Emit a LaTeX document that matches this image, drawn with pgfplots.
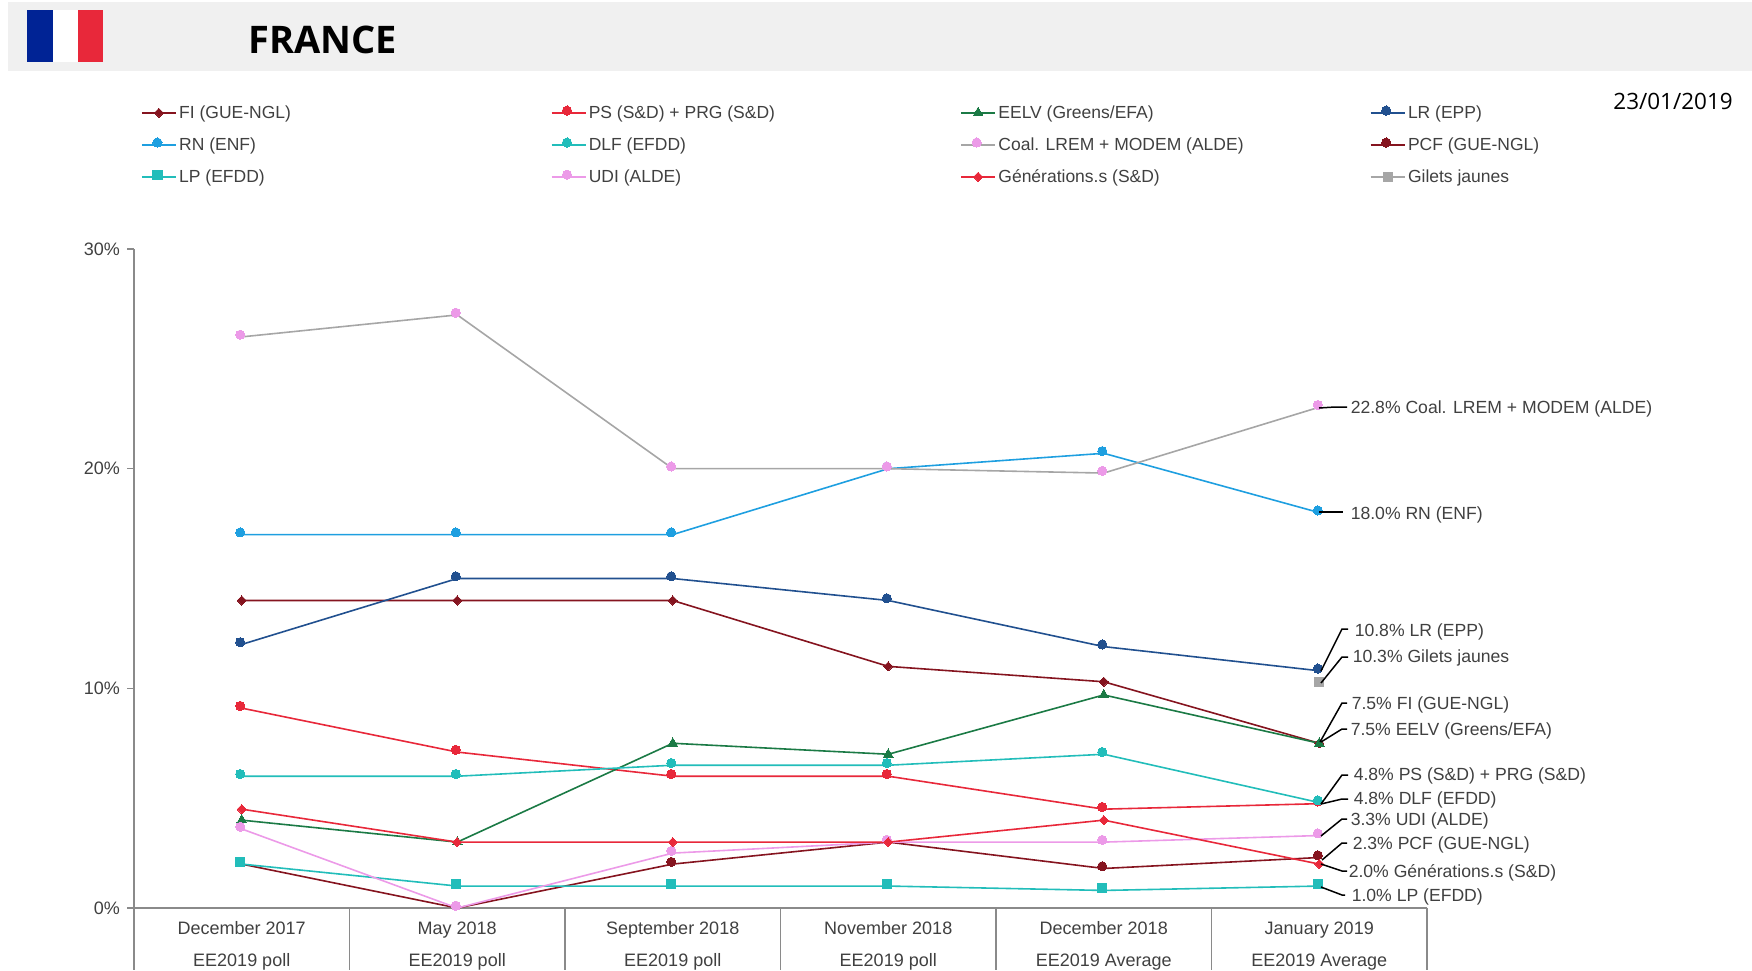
\documentclass[border=0pt]{standalone}
\usepackage{fontspec}
\setmainfont{Liberation Sans}
\newfontfamily\headfont{Open Sans}
\usepackage{pgfplots}
\pgfplotsset{compat=1.18}

\definecolor{fi}{HTML}{85141F}
\definecolor{ps}{HTML}{E8283A}
\definecolor{eelv}{HTML}{1B7A45}
\definecolor{lr}{HTML}{21508F}
\definecolor{rn}{HTML}{1E9FE0}
\definecolor{dlf}{HTML}{22BDBA}
\definecolor{lrem}{HTML}{A6A6A6}
\definecolor{pink}{HTML}{EC9AE8}
\definecolor{txt}{HTML}{404040}
\definecolor{axisgrey}{HTML}{8A8A8A}
\definecolor{flagblue}{HTML}{002395}

\pgfplotstableread{
x   fi   ps   eelv lr   rn   dlf  lrem pcf  lp   udi  gen
0.5 14   9.1  4.0  12.0 17.0 6.0  26.0 2.0  2.0  3.6  4.5
1.5 14   7.1  3.0  15.0 17.0 6.0  27.0 0.0  1.0  0.0  3.0
2.5 14   6.0  7.5  15.0 17.0 6.5  20.0 2.0  1.0  2.5  3.0
3.5 11   6.0  7.0  14.0 20.0 6.5  20.0 3.0  1.0  3.0  3.0
4.5 10.3 4.5  9.7  11.9 20.7 7.0  19.8 1.8  0.8  3.0  4.0
5.5 7.5  4.75 7.5  10.8 18.0 4.8  22.8 2.3  1.0  3.3  2.0
}\polls

\pgfplotsset{
  serie/.style args={#1/#2/#3}{color=#1, line width=1.6pt, mark=#3,
    mark options={solid, draw=#2, fill=#2, line width=0pt, mark size=4.6pt}},
  offset/.style={every mark/.append style={xshift=-1.5pt, yshift=2.2pt}},
  wide/.style={every mark/.append style={xscale=1.33}},
  fat/.style={every mark/.append style={scale=1.2}},
}
\newcommand{\ent}[1]{\makebox[374pt][l]{#1}}

\begin{document}
\begin{tikzpicture}
\path[use as bounding box] (0pt,0pt) rectangle (1752pt,-970pt);
\begin{scope}[x=1pt,y=-1pt]
  \fill[black!6] (8,2) rectangle (1752,70.5);
  \fill[white] (53,10) rectangle (78,62);
  \fill[flagblue] (27,10) rectangle (53,62);
  \fill[ps] (78,10) rectangle (103,62);
  \node[anchor=base west,inner sep=0pt,font=\headfont\bfseries\fontsize{38}{40}\selectfont] at (248,53) {FRANCE};
  \node[anchor=base east,inner sep=0pt,font=\headfont\fontsize{22.5}{26}\selectfont] at (1733,109) {23/01/2019};
\end{scope}

\begin{axis}[
    at={(134pt,-908pt)},
    anchor=origin,
    scale only axis,
    width=1293pt,
    height=659pt,
    xmin=0, xmax=6,
    ymin=0, ymax=30,
    clip=false,
    axis lines=left,
    x axis line style={-, draw=axisgrey, line width=1.5pt},
    y axis line style={-, draw=axisgrey, line width=1.5pt},
    tick align=outside,
    xtick={0.5,1.5,2.5,3.5,4.5,5.5},
    xticklabels={
      December 2017\\EE2019 poll,
      \vphantom{b}May 2018\\EE2019 poll,
      September 2018\\EE2019 poll,
      November 2018\\EE2019 poll,
      December 2018\\EE2019 Average,
      \vphantom{b}January 2019\\EE2019 Average},
    xticklabel style={align=center, text=txt, font=\fontsize{18}{32}\selectfont, yshift=-3.2pt},
    major x tick style={draw=none},
    ytick={0,10,20,30},
    yticklabel={\pgfmathprintnumber{\tick}\%},
    yticklabel style={text=txt, font=\fontsize{18}{22}\selectfont, xshift=-3.5pt},
    y tick style={draw=axisgrey, line width=1.5pt},
    major tick length=7pt,
    /pgf/number format/assume math mode=true,
    legend columns=4,
    legend cell align=left,
    legend style={
      at={(axis description cs:0.0055,1.2175)},
      anchor=north west,
      draw=none, fill=none,
      inner sep=0pt, outer sep=0pt,
      row sep=17.8pt,
      font=\fontsize{17.5}{23}\selectfont,
      text=txt,
      nodes={inner sep=0pt, outer sep=0pt},
    },
    legend image code/.code={
      \draw[mark repeat=2,mark phase=2,#1] plot coordinates {(0pt,0pt)(17pt,0pt)(34pt,0pt)};
    },
]
\addplot[serie={fi/fi/diamond*},wide] table[x=x,y=fi] {\polls};
\addlegendentry{\ent{\hspace{2.5pt}FI (GUE-NGL)}}
\addplot[serie={ps/ps/*},offset] table[x=x,y=ps] {\polls};
\addlegendentry{\ent{\hspace{2.5pt}PS (S\&D) + PRG (S\&D)}}
\addplot[serie={eelv/eelv/triangle*},fat] table[x=x,y=eelv] {\polls};
\addlegendentry{\ent{\hspace{2.5pt}EELV (Greens/EFA)}}
\addplot[serie={lr/lr/*},offset] table[x=x,y=lr] {\polls};
\addlegendentry{\ent{\hspace{2.5pt}LR (EPP)}}
\addplot[serie={rn/rn/*},offset] table[x=x,y=rn] {\polls};
\addlegendentry{\ent{\hspace{2.5pt}RN (ENF)}}
\addplot[serie={dlf/dlf/*},offset] table[x=x,y=dlf] {\polls};
\addlegendentry{\ent{\hspace{2.5pt}DLF (EFDD)}}
\addplot[serie={lrem/pink/*},offset] table[x=x,y=lrem] {\polls};
\addlegendentry{\ent{\hspace{2.5pt}Coal. LREM + MODEM (ALDE)}}
\addplot[serie={fi/fi/*},offset] table[x=x,y=pcf] {\polls};
\addlegendentry{\ent{\hspace{2.5pt}PCF (GUE-NGL)}}
\addplot[serie={dlf/dlf/square*},offset] table[x=x,y=lp] {\polls};
\addlegendentry{\ent{\hspace{2.5pt}LP (EFDD)}}
\addplot[serie={pink/pink/*},offset] table[x=x,y=udi] {\polls};
\addlegendentry{\ent{\hspace{2.5pt}UDI (ALDE)}}
\addplot[serie={ps/ps/diamond*},wide] table[x=x,y=gen] {\polls};
\addlegendentry{\ent{\hspace{2.5pt}Générations.s (S\&D)}}
\addplot[serie={lrem/lrem/square*}] coordinates {(5.5,10.3)};
\addlegendentry{\ent{\hspace{2.5pt}Gilets jaunes}}
\end{axis}

\begin{scope}[x=1pt,y=-1pt,line width=1.5pt,black]
  % category dividers below the axis
  \foreach \k in {0,...,6}
    \draw[axisgrey] ({134+\k*215.5},908) -- ({134+\k*215.5},970);
  \draw (1319,408) -- (1335,407) -- (1347,407);
  \draw (1319,512) -- (1343,512);
  \draw (1321,671) -- (1342,629) -- (1348,629);
  \draw (1321,683) -- (1342,657) -- (1348,657);
  \draw (1320,742) -- (1342,703) -- (1347,703);
  \draw (1321,742) -- (1342,729) -- (1347,729);
  \draw (1321,804) -- (1342,775) -- (1348,775);
  \draw (1321,804) -- (1342,799) -- (1348,799);
  \draw (1321,836) -- (1342,819) -- (1347,819);
  \draw (1322,860) -- (1342,843) -- (1347,843);
  \draw (1321,864) -- (1342,871) -- (1347,871);
  \draw (1321,887) -- (1342,895) -- (1345,895);
  \begin{scope}[every node/.style={anchor=west,inner sep=0pt,text=txt,font=\fontsize{17.6}{22}\selectfont}]
    \node at (1350,409) {22.8\% Coal. LREM + MODEM (ALDE)};
    \node at (1350,515) {18.0\% RN (ENF)};
    \node at (1354,632) {10.8\% LR (EPP)};
    \node at (1352,658) {10.3\% Gilets jaunes};
    \node at (1351,705) {7.5\% FI (GUE-NGL)};
    \node at (1350,731) {7.5\% EELV (Greens/EFA)};
    \node at (1353,776) {4.8\% PS (S\&D) + PRG (S\&D)};
    \node at (1353,800) {4.8\% DLF (EFDD)};
    \node at (1350,821) {3.3\% UDI (ALDE)};
    \node at (1352,845) {2.3\% PCF (GUE-NGL)};
    \node at (1348,873) {2.0\% Générations.s (S\&D)};
    \node at (1351,897) {1.0\% LP (EFDD)};
  \end{scope}
\end{scope}
\end{tikzpicture}
\end{document}
